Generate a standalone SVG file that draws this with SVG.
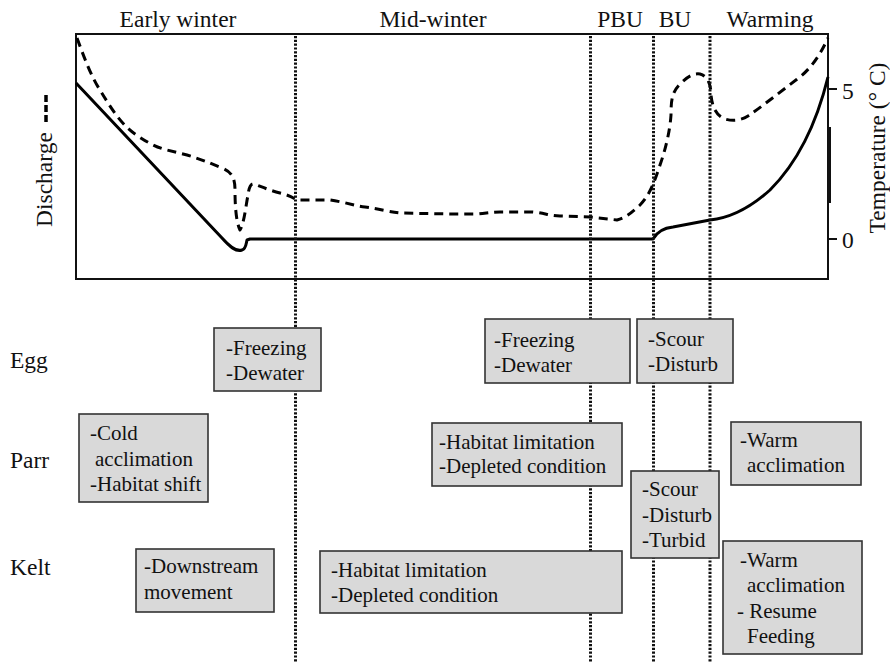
<svg xmlns="http://www.w3.org/2000/svg" width="890" height="663" viewBox="0 0 890 663">
<style>
text{font-family:"Liberation Serif","Times New Roman",serif;fill:#111}
.t{font-size:23.5px}
.b{font-size:21px}
.box{fill:#d9d9d9;stroke:#333;stroke-width:1.6}
.dot{stroke:#111;stroke-width:3;stroke-dasharray:2.2,1.6;fill:none}
.frame{stroke:#111;stroke-width:2;fill:none}
.sol{stroke:#000;stroke-width:3;fill:none;stroke-linejoin:round}
.dsh{stroke:#000;stroke-width:3;fill:none;stroke-dasharray:9,6;stroke-linejoin:round}
</style>
<rect width="890" height="663" fill="#fff"/>
<g id="chart">
<rect class="frame" x="76" y="34" width="752" height="245"/>
<line x1="829.5" y1="127" x2="829.5" y2="203" stroke="#111" stroke-width="3"/>
<line x1="828" y1="89" x2="837" y2="89" stroke="#111" stroke-width="2"/>
<line x1="828" y1="239" x2="837" y2="239" stroke="#111" stroke-width="2"/>
<text class="t" x="842" y="99">5</text>
<text class="t" x="842" y="248">0</text>
<text class="t" transform="translate(885,148) rotate(-90)" text-anchor="middle">Temperature (° C)</text>
<text class="t" transform="translate(52,227) rotate(-90)">Discharge</text>
<line x1="46" y1="122" x2="46" y2="92" stroke="#000" stroke-width="3.5" stroke-dasharray="7,3"/>
<path class="sol" d="M76,83 L222,238 C230,247 236,252 242,250 C246,249 246,244 247,240 L250,239 L653,239 C657,232 663,228 673,227 L710,220 C730,218 750,208 770,190 C795,165 815,130 828,77"/>
<path class="dsh" d="M77,38 C85,60 92,78 100,90 C112,110 122,125 135,134 C145,141 155,147 167,150 L187,155 C200,159 210,163 222,168 C232,172 235,178 235,190 C235,205 236,222 240,230 C244,224 246,205 248,195 C249,187 251,183 254,184 C260,186 268,190 280,193 C288,195 292,197 297,200 L330,200 C345,202 355,206 365,207 C380,209 390,212 400,213 L450,214 L478,214 C488,213 492,212 500,212 L533,212 C545,213 550,216 560,216 L590,217 L617,220 C625,218 630,214 640,205 C650,195 655,180 660,165 C666,148 670,130 671,115 C671,100 672,92 680,84 C687,77 693,73 700,74 C708,76 711,85 711,95 C712,105 715,115 725,119 C732,121 740,121 748,116 C760,108 780,92 800,77 C812,67 820,55 828,38"/>
</g>
<g id="period-labels">
<text class="t" x="178" y="27" text-anchor="middle">Early winter</text>
<text class="t" x="433" y="27" text-anchor="middle">Mid-winter</text>
<text class="t" x="620" y="27" text-anchor="middle">PBU</text>
<text class="t" x="675" y="27" text-anchor="middle">BU</text>
<text class="t" x="770" y="27" text-anchor="middle">Warming</text>
</g>
<g id="connectors">
<line class="dot" x1="295.5" y1="36" x2="295.5" y2="663"/>
<line class="dot" x1="590.5" y1="36" x2="590.5" y2="663"/>
<line class="dot" x1="653.5" y1="36" x2="653.5" y2="663"/>
<line class="dot" x1="710" y1="36" x2="710" y2="663"/>
</g>
<g id="row-labels">
<text class="t" x="10" y="368">Egg</text>
<text class="t" x="10" y="468">Parr</text>
<text class="t" x="10" y="575">Kelt</text>
</g>
<g id="egg-early">
<rect class="box" x="214" y="328" width="107" height="63"/>
<text class="b" x="226" y="355">-Freezing</text>
<text class="b" x="226" y="380">-Dewater</text>
</g>
<g id="egg-mid">
<rect class="box" x="485" y="319" width="145" height="64"/>
<text class="b" x="494" y="347">-Freezing</text>
<text class="b" x="494" y="372">-Dewater</text>
</g>
<g id="egg-bu">
<rect class="box" x="637" y="319" width="96" height="64"/>
<text class="b" x="648" y="346">-Scour</text>
<text class="b" x="648" y="371">-Disturb</text>
</g>
<g id="parr-early">
<rect class="box" x="79" y="414" width="129" height="88"/>
<text class="b" x="90" y="440">-Cold</text>
<text class="b" x="95" y="466">acclimation</text>
<text class="b" x="90" y="491">-Habitat shift</text>
</g>
<g id="parr-mid">
<rect class="box" x="432" y="423" width="190" height="63"/>
<text class="b" x="439" y="449">-Habitat limitation</text>
<text class="b" x="439" y="473">-Depleted condition</text>
</g>
<g id="parr-bu">
<rect class="box" x="631" y="471" width="88" height="87"/>
<text class="b" x="642" y="496">-Scour</text>
<text class="b" x="642" y="522">-Disturb</text>
<text class="b" x="642" y="547">-Turbid</text>
</g>
<g id="parr-warming">
<rect class="box" x="731" y="422" width="130" height="63"/>
<text class="b" x="740" y="447">-Warm</text>
<text class="b" x="747" y="472">acclimation</text>
</g>
<g id="kelt-early">
<rect class="box" x="136" y="549" width="138" height="63"/>
<text class="b" x="144" y="573">-Downstream</text>
<text class="b" x="144" y="599">movement</text>
</g>
<g id="kelt-mid">
<rect class="box" x="320" y="551" width="302" height="62"/>
<text class="b" x="331" y="577">-Habitat limitation</text>
<text class="b" x="331" y="602">-Depleted condition</text>
</g>
<g id="kelt-warming">
<rect class="box" x="723" y="541" width="139" height="113"/>
<text class="b" x="740" y="567">-Warm</text>
<text class="b" x="747" y="592">acclimation</text>
<text class="b" x="737" y="618">- Resume</text>
<text class="b" x="747" y="643">Feeding</text>
</g>
</svg>
